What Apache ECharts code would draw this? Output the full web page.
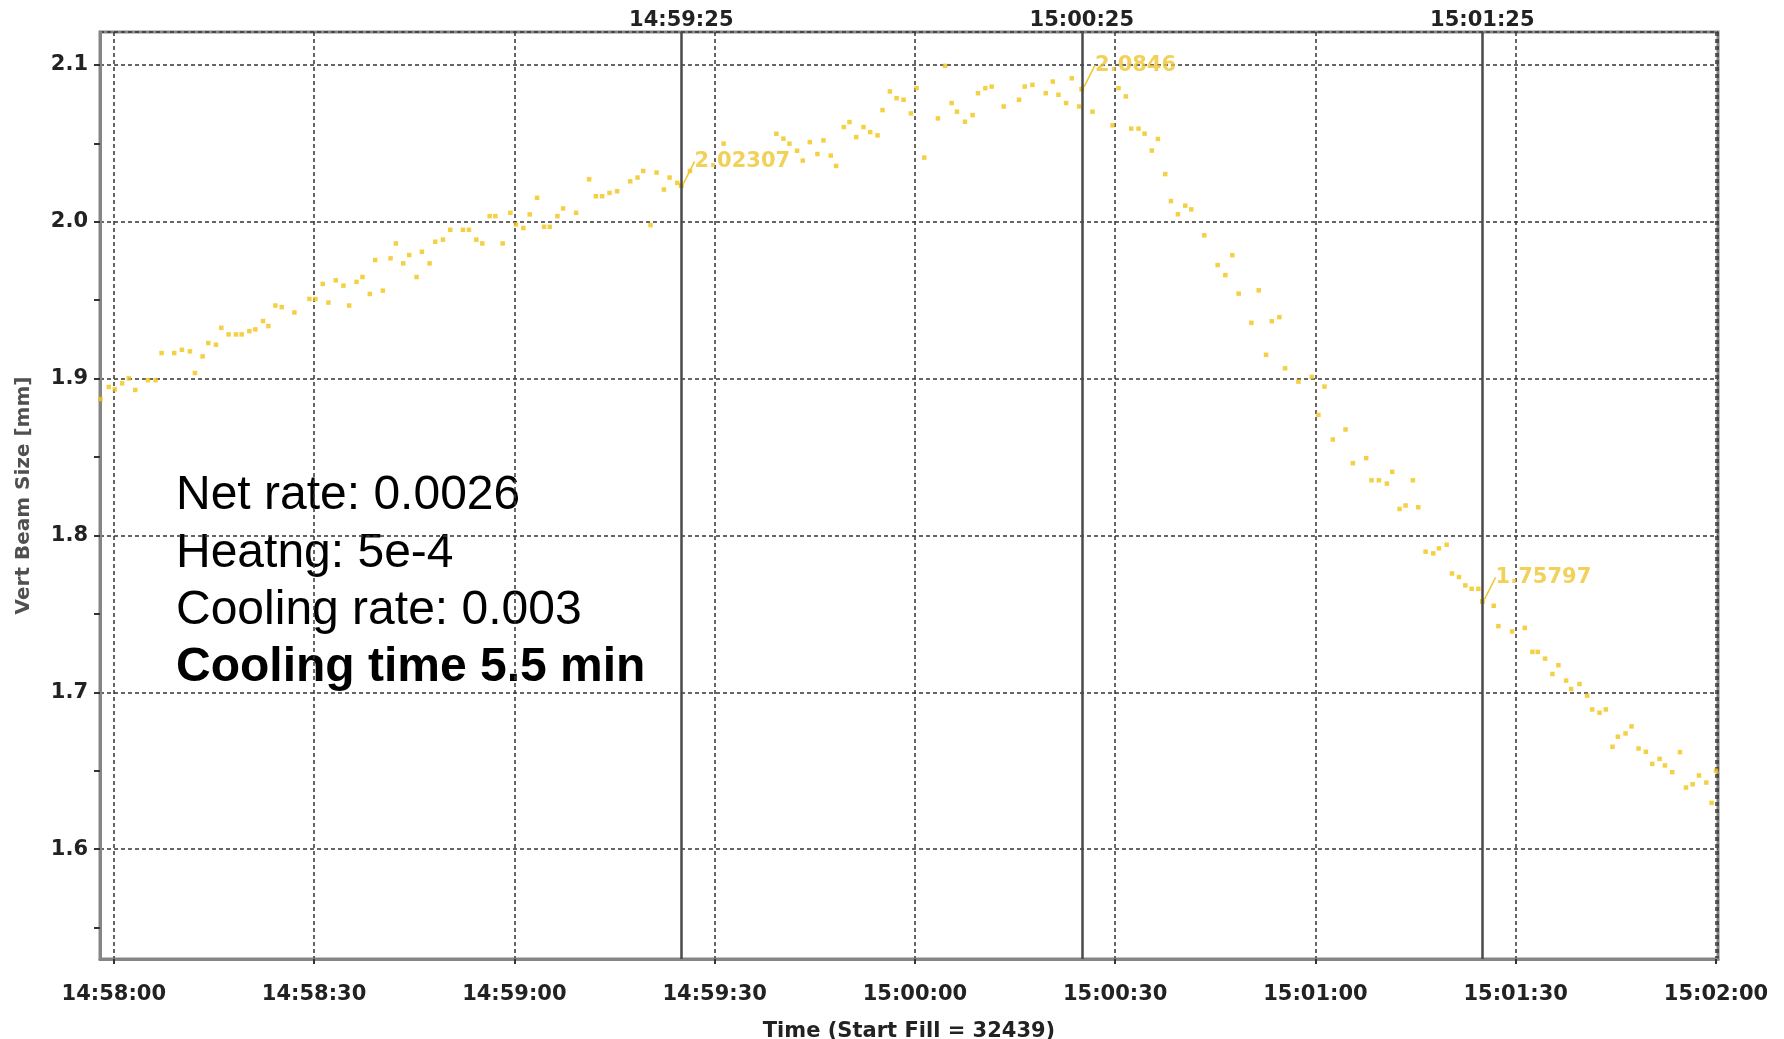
<!DOCTYPE html>
<html>
<head>
<meta charset="utf-8">
<title>Vert Beam Size</title>
<script src="https://cdn.jsdelivr.net/npm/echarts@6/dist/echarts.min.js"></script>
<style>
  html, body { margin: 0; padding: 0; background: #ffffff; }
  #chart { width: 1784px; height: 1039px; }
</style>
</head>
<body>
<div id="chart"></div>
<script>
// Measurement times, in seconds after 14:58:00
const timeSec = [
  -2.0, -0.75, 0.15, 1.25, 2.25, 3.2, 5.1, 6.25, 7.15, 9.05,
  10.2, 11.4, 12.15, 13.3, 14.15, 15.3, 16.1, 17.2, 18.3, 19.15,
  20.3, 21.2, 22.35, 23.15, 24.2, 25.15, 27.05, 29.3, 30.2, 31.3,
  32.15, 33.25, 34.4, 35.25, 36.35, 37.25, 38.35, 39.15, 40.3, 41.45,
  42.25, 43.35, 44.25, 45.35, 46.15, 47.3, 48.15, 49.3, 50.4, 52.3,
  53.2, 54.3, 55.2, 56.3, 57.15, 58.25, 59.4, 60.25, 61.35,
  62.3, 63.4, 64.45, 65.3, 66.45, 67.3, 69.25, 71.2, 72.2, 73.15,
  74.25, 75.4, 77.35, 78.45, 79.3, 80.4, 81.3, 82.4, 83.25, 84.4,
  85, 86.3, 91.35, 99.25, 100.3, 101.2, 102.35, 103.2, 104.25, 105.4,
  106.3, 107.4, 108.2, 109.35, 110.2, 111.2, 112.3, 113.3, 114.4, 115.15,
  116.25, 117.25, 118.3, 119.4, 120.25, 121.4,
  123.45, 124.5, 125.5, 126.3, 127.5, 128.65, 129.45, 130.55, 131.5, 133.3,
  135.6, 136.45, 137.6, 139.6, 140.65, 141.5, 142.65, 143.5, 144.6, 145,
  146.6, 149.6, 150.5, 151.6, 152.4, 153.5, 154.4, 155.5, 156.4, 157.5,
  158.35, 159.4, 160.5, 161.4, 163.35, 165.35, 166.5, 167.55, 168.5, 170.4,
  171.5, 172.6, 173.45, 174.6, 175.45, 177.45, 179.45, 180.45, 181.35,
  182.6, 184.5, 185.6, 187.6, 188.4, 189.5, 190.7, 191.5, 192.6, 193.5,
  194.6, 195.4, 196.5, 197.65, 198.5, 199.65, 200.45, 201.5, 202.45, 203.4,
  204.4, 205, 206.7, 207.4, 209.45, 211.35, 212.5, 213.3, 214.4, 215.5,
  216.4, 217.55, 218.3, 219.55, 220.7, 221.45, 222.55, 223.5, 224.5, 225.3,
  226.45, 227.35, 228.4, 229.5, 230.45, 231.55, 232.35, 233.45, 234.6, 235.5,
  236.5, 237.45, 238.55, 239.35, 240.0
];

// Vertical beam size [mm] at each time above
const beamSize = [
  1.887, 1.8947, 1.8932, 1.897, 1.9002, 1.8928, 1.899, 1.899, 1.9163, 1.9163,
  1.9184, 1.9174, 1.9036, 1.9142, 1.9227, 1.9216, 1.9324, 1.9282, 1.9282, 1.9282,
  1.9303, 1.9314, 1.9367, 1.9335, 1.9466, 1.9456, 1.9422, 1.9508, 1.9508, 1.9604,
  1.9485, 1.9627, 1.9593, 1.9466, 1.9617, 1.9648, 1.954, 1.9756, 1.9561, 1.9767,
  1.9862, 1.9735, 1.9788, 1.9648, 1.9809, 1.9735, 1.9873, 1.9886, 1.9949, 1.9949,
  1.9949, 1.9886, 1.9862, 2.0036, 2.0036, 1.9862, 2.0057, 1.9983, 1.996,
  2.0047, 2.0153, 1.9968, 1.9968, 2.0036, 2.0085, 2.0057, 2.0271, 2.0163, 2.0163,
  2.0184, 2.0195, 2.0258, 2.0282, 2.0324, 1.9979, 2.0314, 2.0206, 2.0282, 2.0248,
  2.02307, 2.0324, 2.0498, 2.0561, 2.053, 2.0498, 2.0453, 2.039, 2.0508, 2.0432,
  2.0519, 2.0422, 2.0356, 2.0604, 2.0636, 2.054, 2.0604, 2.0572, 2.0551, 2.0712,
  2.0831, 2.0788, 2.0778, 2.0691, 2.0852, 2.0409,
  2.0659, 2.0994, 2.0757, 2.0702, 2.0638, 2.068, 2.082, 2.0852, 2.0862, 2.0735,
  2.0778, 2.0862, 2.0873, 2.082, 2.0894, 2.081, 2.0757, 2.0915, 2.0735, 2.0846,
  2.0702, 2.0615, 2.0852, 2.0799, 2.0594, 2.0594, 2.0562, 2.0454, 2.0528, 2.0304,
  2.0132, 2.0048, 2.0103, 2.0079, 1.9914, 1.9724, 1.966, 1.9787, 1.9542, 1.9356,
  1.9563, 1.9152, 1.9366, 1.9392, 1.9066, 1.8981, 1.9011, 1.8769, 1.8949,
  1.8612, 1.8676, 1.8461, 1.8493, 1.8352, 1.8352, 1.8331, 1.8406, 1.8169, 1.8191,
  1.8352, 1.818, 1.7897, 1.7886, 1.7918, 1.7941, 1.7758, 1.7735, 1.7682, 1.766,
  1.766, 1.75797, 1.7552, 1.7422, 1.7388, 1.7411, 1.7258, 1.7258, 1.7215, 1.7117,
  1.7173, 1.7075, 1.7021, 1.7053, 1.6979, 1.6891, 1.687, 1.6891, 1.6653, 1.6717,
  1.6738, 1.6783, 1.6642, 1.6621, 1.6544, 1.6576, 1.6534, 1.6491, 1.6619, 1.6393,
  1.6414, 1.647, 1.6425, 1.6295, 1.65
];

// Cursor positions (seconds after 14:58:00) and the values read at them
const cursorSec = [85, 145, 205];
const cursorVal = [2.02307, 2.0846, 1.75797];

// Small tick marks on the value axis
const yTickValues = [1.55, 1.6, 1.65, 1.7, 1.75, 1.8, 1.85, 1.9, 1.95, 2.0, 2.05, 2.1];

// Notes written over the plot
const notes = ['Net rate: 0.0026', 'Heatng: 5e-4', 'Cooling rate: 0.003', 'Cooling time 5.5 min'];

const START_CLOCK = 14 * 3600 + 58 * 60;
const pad = n => (n < 10 ? '0' : '') + n;
function clock(sec) {
  const s = Math.round(START_CLOCK + sec);
  return pad(Math.floor(s / 3600)) + ':' + pad(Math.floor(s / 60) % 60) + ':' + pad(s % 60);
}

const POINT = '#f1c416';
const LABEL_YELLOW = '#eec630';
const TICK_FONT = '"DejaVu Sans", sans-serif';

const chart = echarts.init(document.getElementById('chart'), null, { renderer: 'canvas' });

const gridDash = { type: [4, 3], color: '#353535', width: 1.5 };

chart.setOption({
  animation: false,
  backgroundColor: '#ffffff',
  grid: {
    left: 100, right: 66, top: 32, bottom: 80,
    outerBoundsMode: 'none',
    containLabel: false,
    show: true, borderColor: '#858585', borderWidth: 3, backgroundColor: 'transparent'
  },
  xAxis: {
    type: 'value',
    min: -2.07, max: 240.3,
    minInterval: 30, maxInterval: 30,
    name: 'Time (Start Fill = 32439)',
    nameLocation: 'middle',
    nameGap: 62,
    nameTextStyle: { fontFamily: TICK_FONT, fontWeight: 'bold', fontSize: 21, color: '#222' },
    axisLine: { show: true, onZero: false, lineStyle: { color: '#858585', width: 3 } },
    axisTick: { show: true, length: 5, lineStyle: { color: '#333', width: 2 } },
    axisLabel: {
      formatter: v => clock(v),
      showMinLabel: false, showMaxLabel: false,
      margin: 25,
      fontFamily: TICK_FONT, fontWeight: 'bold', fontSize: 21, color: '#222'
    },
    splitLine: { show: true, lineStyle: gridDash }
  },
  yAxis: [
    {
      type: 'value',
      min: 1.53, max: 2.121,
      minInterval: 0.1, maxInterval: 0.1,
      name: 'Vert Beam Size [mm]',
      nameLocation: 'middle',
      nameRotate: 90,
      nameGap: 66,
      nameTextStyle: { fontFamily: TICK_FONT, fontWeight: 'bold', fontSize: 20, color: '#505050' },
      axisLine: { show: true, onZero: false, lineStyle: { color: '#858585', width: 3 } },
      axisTick: { show: false },
      axisLabel: {
        formatter: v => v.toFixed(1),
        showMinLabel: false, showMaxLabel: false,
        margin: 12,
        fontFamily: TICK_FONT, fontWeight: 'bold', fontSize: 21, color: '#222'
      },
      splitLine: { show: true, lineStyle: gridDash }
    },
    {
      type: 'value',
      min: 1.53, max: 2.121,
      position: 'left',
      axisLine: { show: false, onZero: false },
      axisLabel: { show: false },
      splitLine: { show: false },
      axisTick: { show: true, length: 6, customValues: yTickValues, lineStyle: { color: '#333', width: 2 } }
    }
  ],
  series: [
    {
      name: 'Vert Beam Size',
      type: 'scatter',
      yAxisIndex: 0,
      symbol: 'rect',
      symbolSize: 4.5,
      itemStyle: { color: POINT },
      data: timeSec.map((t, i) => [t, beamSize[i]]),
      markLine: {
        silent: true,
        symbol: ['none', 'none'],
        lineStyle: { type: 'solid', color: '#4a4a4a', width: 2.5 },
        label: {
          show: true,
          position: 'end',
          distance: 1,
          formatter: p => clock(p.value),
          fontFamily: TICK_FONT, fontWeight: 'bold', fontSize: 21, color: '#222'
        },
        emphasis: { disabled: true },
        data: cursorSec.map(s => ({ xAxis: s }))
      }
    },
    {
      name: 'Cursor',
      type: 'scatter',
      yAxisIndex: 0,
      symbol: 'rect',
      symbolSize: 4.5,
      itemStyle: { color: POINT },
      data: cursorSec.map((s, i) => [s, cursorVal[i]]),
      label: {
        show: true,
        position: 'right',
        distance: 5,
        formatter: p => String(p.value[1]),
        fontFamily: TICK_FONT, fontWeight: 'bold', fontSize: 21, color: LABEL_YELLOW
      },
      labelLayout: { dx: 6, dy: -24 },
      labelLine: { show: true, lineStyle: { color: LABEL_YELLOW, width: 1.5 } }
    }
  ],
  graphic: notes.map((t, i) => ({
    type: 'text',
    x: 176,
    y: 496 + i * 57.3,
    silent: true,
    style: {
      text: t,
      fill: '#000',
      font: (i === 3 ? 'bold ' : '') + '48px "Liberation Sans", Arial, sans-serif',
      align: 'left',
      verticalAlign: 'middle'
    }
  }))
});
</script>
</body>
</html>
